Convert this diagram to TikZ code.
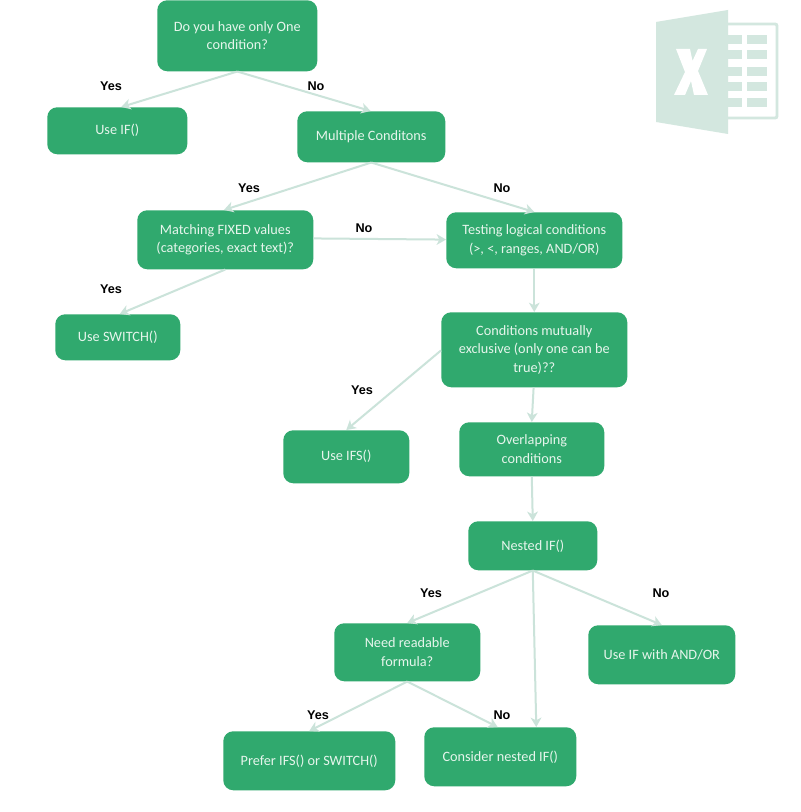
\documentclass[tikz,border=0pt]{standalone}
\usepackage{fontspec}
\setmainfont{Carlito}
\newfontfamily\lblfont{Liberation Sans}
\usetikzlibrary{arrows.meta}
\definecolor{boxgreen}{HTML}{30A96E}
\definecolor{linegreen}{HTML}{CBE3DA}
\definecolor{logogreen}{HTML}{D3E7DF}
\definecolor{boxtext}{HTML}{E6F5EC}
\tikzset{
  pbox/.style n args={4}{draw=none,fill=boxgreen,rounded corners=7.5pt,inner sep=0pt,anchor=north west,
    text=boxtext,align=center,font=\fontsize{10.7pt}{14pt}\selectfont,
    at={(#1,#2)},minimum width=(#3-#1)*0.75pt,minimum height=(#4-#2)*0.75pt},
  conn/.style={draw=linegreen,line width=1.5pt,-{Stealth[length=7pt,width=8pt,inset=2pt]}},
  lbl/.style={font=\lblfont\bfseries\fontsize{9.5pt}{11pt}\selectfont,text=black,inner sep=0pt}
}
\begin{document}
\begin{tikzpicture}[x=0.75pt,y=-0.75pt]
\useasboundingbox[fill=white] (0,0) rectangle (800,812);
% Excel logo
\fill[logogreen] (656,22) -- (728,10) -- (728,134) -- (656,122) -- cycle;
\draw[logogreen,line width=2.2pt,rounded corners=1.5pt] (728,24) -- (777,24) -- (777,118) -- (728,118);
\foreach \yy in {35,50,67,82,98}{
  \fill[logogreen] (728,\yy) rectangle (742,\yy+9);
  \fill[logogreen] (747,\yy) rectangle (767,\yy+9);
}
\fill[white] (676,49) -- (690,49) -- (692.5,61) -- (698,49) -- (707,49) -- (698,71) -- (708,95) -- (694,95) -- (691,81) -- (685,95) -- (674,95) -- (685,72) -- cycle;
% Boxes
\node[pbox={157}{0}{317}{71}] (top) {Do you have only One\\condition?};
\node[pbox={47}{107}{187}{154}] (useif) {Use IF()};
\node[pbox={297}{111}{445}{162}] (multi) {Multiple Conditons};
\node[pbox={137}{210}{313}{269}] (match) {Matching FIXED values\\(categories, exact text)?};
\node[pbox={446}{212}{622}{268}] (test) {Testing logical conditions\\(>, <, ranges, AND/OR)};
\node[pbox={55}{314}{180}{360}] (switch) {Use SWITCH()};
\node[pbox={441}{312}{627}{387}] (mutex) {Conditions mutually\\exclusive (only one can be\\true)??};
\node[pbox={283}{430}{409}{483}] (ifs) {Use IFS()};
\node[pbox={459}{422}{604}{476}] (overlap) {Overlapping\\conditions};
\node[pbox={468}{521}{597}{570}] (nested) {Nested IF()};
\node[pbox={334}{623}{480}{681}] (need) {Need readable\\formula?};
\node[pbox={588}{625}{735}{684}] (andor) {Use IF with AND/OR};
\node[pbox={223}{731}{395}{790}] (prefer) {Prefer IFS() or SWITCH()};
\node[pbox={424}{727}{576}{786}] (consider) {Consider nested IF()};
% Connectors
\draw[conn] (top.south) -- ([xshift=3pt]useif.north);
\draw[conn] (top.south) -- ([xshift=-0.5pt]multi.north);
\draw[conn] (multi.south) -- ([xshift=-1pt]match.north);
\draw[conn] (multi.south) -- (test.north);
\draw[conn] ([yshift=1pt]match.east) -- ([yshift=0.5pt]test.west);
\draw[conn] (match.south) -- ([xshift=1.5pt]switch.north);
\draw[conn] (test.south) -- (mutex.north);
\draw[conn] ([yshift=-0.5pt]mutex.west) -- (ifs.north);
\draw[conn] ([xshift=-0.5pt]mutex.south) -- (overlap.north);
\draw[conn] (overlap.south) -- (nested.north);
\draw[conn] (nested.south) -- (need.north);
\draw[conn] (nested.south) -- (andor.north);
\draw[conn] (nested.south) -- ([xshift=27pt]consider.north);
\draw[conn] (need.south) -- (prefer.north);
\draw[conn] (need.south) -- ([xshift=-2pt]consider.north);
% Labels
\node[lbl] (l1) at (111,86) {Yes};
\node[lbl] (l2) at (316,86) {No};
\node[lbl] (l3) at (249,188) {Yes};
\node[lbl] (l4) at (502,188) {No};
\node[lbl] (l5) at (364,228) {No};
\node[lbl] (l6) at (111,289) {Yes};
\node[lbl] (l7) at (362,390) {Yes};
\node[lbl] (l8) at (431,593) {Yes};
\node[lbl] (l9) at (661,593) {No};
\node[lbl] (l10) at (318,715) {Yes};
\node[lbl] (l11) at (502,715) {No};
\end{tikzpicture}
\end{document}
